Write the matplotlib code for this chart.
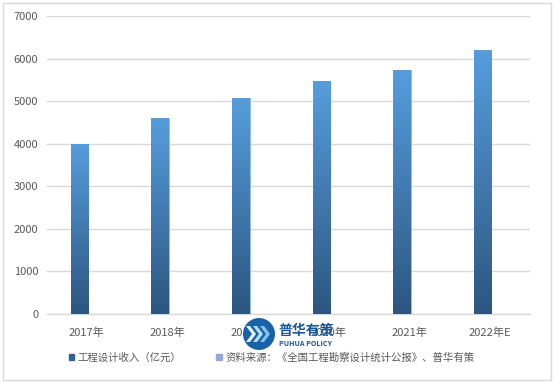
import numpy as np
import matplotlib
matplotlib.use("Agg")
import matplotlib.pyplot as plt
from matplotlib.colors import LinearSegmentedColormap
from matplotlib.patches import Circle, Rectangle, Polygon

plt.rcParams['font.family'] = ['Noto Sans CJK SC', 'DejaVu Sans']

years = ["2017年", "2018年", "2019年", "2020年", "2021年", "2022年E"]
income = [4000, 4600, 5080, 5470, 5730, 6200]
source_dummy = [0, 0, 0, 0, 0, 0]
series_names = ["工程设计收入（亿元）", "资料来源：《全国工程勘察设计统计公报》、普华有策"]

text_color = "#595959"
grid_color = "#D9D9D9"
top_blue = "#569DDD"
bottom_blue = "#2C5680"
legend_blue = "#2F6396"
legend_purple = "#8FA8DA"

fig = plt.figure(figsize=(5.54, 3.83), dpi=100)
ax = fig.add_axes([0.084, 0.180, 0.873, 0.778])

x = np.arange(len(years))
w = 0.22
bars = ax.bar(x - w / 2 + 0.02, income, w, color=top_blue, edgecolor="#8DBBE6",
              linewidth=0.6, label=series_names[0], zorder=3)
ax.bar(x + w / 2 + 0.02, source_dummy, w, color=legend_purple, label=series_names[1], zorder=3)

# gradient fill, light at top, dark at bottom
cmap = LinearSegmentedColormap.from_list("grad", [bottom_blue, top_blue])
grad = np.linspace(0, 1, 256).reshape(-1, 1)
for b in bars:
    bx, by = b.get_x(), b.get_y()
    bw, bh = b.get_width(), b.get_height()
    im = ax.imshow(grad, cmap=cmap, origin="lower", aspect="auto",
                   extent=[bx, bx + bw, by, by + bh], zorder=4)
    im.set_clip_path(b)

ax.set_xlim(-0.5, len(years) - 0.5)
ax.set_ylim(0, 7000)
ax.set_yticks(np.arange(0, 7001, 1000))
ax.set_xticks(x)
ax.set_xticklabels(years)
ax.tick_params(axis="both", length=0, labelsize=8, colors=text_color)
ax.tick_params(axis="x", pad=10)
ax.tick_params(axis="y", pad=6)
ax.yaxis.grid(True, color=grid_color, linewidth=1)
ax.set_axisbelow(True)
for s in ["top", "left", "right"]:
    ax.spines[s].set_visible(False)
ax.spines["bottom"].set_color(grid_color)
ax.spines["bottom"].set_linewidth(1)

handles = [Rectangle((0, 0), 1, 1, color=legend_blue),
           Rectangle((0, 0), 1, 1, color=legend_purple)]
fig.legend(handles, series_names, loc="center", bbox_to_anchor=(0.49, 0.066),
           ncol=2, frameon=False, fontsize=7.5, labelcolor=text_color,
           handlelength=0.55, handleheight=0.55, handletextpad=0.35, columnspacing=3.3)

# watermark logo (pixel coordinates, origin bottom-left)
lcx, lcy, lr = 259, 49, 16
fig.patches.append(Circle((lcx, lcy), lr, transform=None,
                          facecolor="#1A62A8", edgecolor="none", zorder=10))
for i in range(3):
    ox = lcx - 13 + i * 7
    pts = [(ox, lcy + 8), (ox + 4, lcy + 8), (ox + 10, lcy), (ox + 4, lcy - 8),
           (ox, lcy - 8), (ox + 6, lcy)]
    fig.patches.append(Polygon(pts, closed=True, transform=None,
                               facecolor=["#E6F4FC", "#B5DEF6", "#7FC4EE"][i],
                               edgecolor="none", zorder=11))
fig.text(278 / 554, 1 - 331 / 383, "普华有策", fontsize=10, fontweight="bold",
         color="#1B5595", va="center", ha="left", zorder=12)
fig.text(279 / 554, 1 - 344 / 383, "PUHUA POLICY", fontsize=5.2, fontweight="bold",
         color="#1B5595", va="center", ha="left", zorder=12)

# outer border
fig.patches.append(Rectangle((0.006, 0.008), 0.988, 0.984, transform=fig.transFigure,
                             facecolor="none", edgecolor="#D9D9D9", linewidth=1, zorder=0))

fig.savefig("out.png", dpi=100)
